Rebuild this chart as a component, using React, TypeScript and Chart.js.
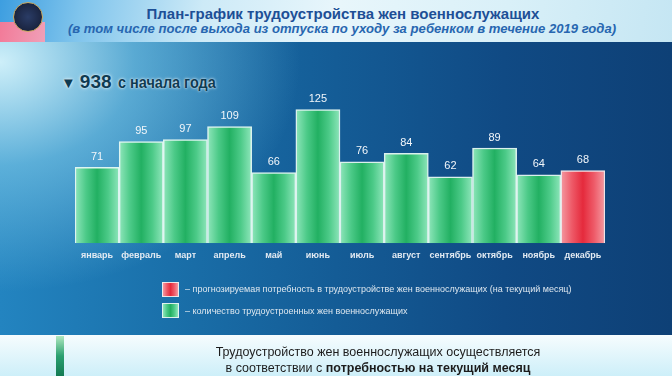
import { useEffect, useRef } from "react";
import { Chart, registerables } from "chart.js";

Chart.register(...registerables);

const months = ["январь", "февраль", "март", "апрель", "май", "июнь", "июль", "август", "сентябрь", "октябрь", "ноябрь", "декабрь"];
const employed = [71, 95, 97, 109, 66, 125, 76, 84, 62, 89, 64, null];
const forecast = [null, null, null, null, null, null, null, null, null, null, null, 68];
const totalLabel = "938";
const legendForecast = "– прогнозируемая потребность в трудоустройстве жен военнослужащих (на текущий месяц)";
const legendEmployed = "– количество трудоустроенных жен военнослужащих";

const greenStops: [number, string][] = [[0, "#8fe6bb"], [0.25, "#4cca88"], [0.5, "#22b062"], [0.75, "#4cca88"], [1, "#8fe6bb"]];
const redStops: [number, string][] = [[0, "#f49aa2"], [0.25, "#ee5a68"], [0.5, "#e52a3c"], [0.75, "#ee5a68"], [1, "#f49aa2"]];

function barGradient(ctx: any, stops: [number, string][]) {
  const chart = ctx.chart;
  const xs = chart.scales && chart.scales.x;
  if (!xs || ctx.dataIndex == null || !xs.width) return stops[2][1];
  const cx = xs.getPixelForValue(ctx.dataIndex);
  const w = xs.width / months.length;
  const g = chart.ctx.createLinearGradient(cx - w / 2, 0, cx + w / 2, 0);
  stops.forEach(([o, c]) => g.addColorStop(o, c));
  return g;
}

const valueLabels = {
  id: "valueLabels",
  afterDatasetsDraw(chart: any) {
    const ctx = chart.ctx;
    ctx.save();
    ctx.font = "11px 'Liberation Sans', Arial, sans-serif";
    ctx.fillStyle = "#f2f6fa";
    ctx.textAlign = "center";
    ctx.textBaseline = "middle";
    chart.data.datasets.forEach((ds: any, di: number) => {
      const meta = chart.getDatasetMeta(di);
      meta.data.forEach((el: any, i: number) => {
        const v = ds.data[i];
        if (v == null) return;
        ctx.fillText(String(v), el.x, el.y - 10.5);
      });
    });
    ctx.restore();
  },
};

function BarChart() {
  const ref = useRef<HTMLCanvasElement>(null);
  useEffect(() => {
    if (!ref.current) return;
    const chart = new Chart(ref.current, {
      type: "bar",
      data: {
        labels: months,
        datasets: [
          {
            label: "employed",
            data: employed,
            grouped: false,
            categoryPercentage: 1,
            barPercentage: 1,
            backgroundColor: (c: any) => barGradient(c, greenStops),
            borderColor: "rgba(230,250,242,0.95)",
            borderWidth: 1.5,
          } as any,
          {
            label: "forecast",
            data: forecast,
            grouped: false,
            categoryPercentage: 1,
            barPercentage: 1,
            backgroundColor: (c: any) => barGradient(c, redStops),
            borderColor: "rgba(252,235,236,0.95)",
            borderWidth: 1.5,
          } as any,
        ],
      },
      options: {
        responsive: false,
        animation: false,
        devicePixelRatio: 1,
        layout: { padding: { left: 75, right: 67, top: 93.5, bottom: 108 } },
        plugins: { legend: { display: false }, tooltip: { enabled: false } },
        scales: {
          y: { display: false, min: 0, max: 140 },
          x: {
            grid: { display: false, drawTicks: false },
            border: { display: false },
            ticks: {
              color: "#e2eaf2",
              padding: 7,
              maxRotation: 0,
              autoSkip: false,
              font: { family: "'Liberation Sans', Arial, sans-serif", size: 9, weight: "bold" },
            },
          },
        },
      },
      plugins: [valueLabels],
    });
    return () => chart.destroy();
  }, []);
  return <canvas ref={ref} width={672} height={376} style={{ position: "absolute", left: 0, top: 0, width: 672, height: 376 }} />;
}

const swatch = (stops: [number, string][]) => ({
  position: "absolute" as const,
  left: 162,
  width: 15,
  height: 13,
  border: "1.5px solid rgba(235,245,245,0.9)",
  background: `linear-gradient(to right, ${stops.map(([o, c]) => `${c} ${o * 100}%`).join(", ")})`,
});

export default function App() {
  return (
    <div
      style={{
        position: "fixed",
        left: 0,
        top: 0,
        width: 672,
        height: 376,
        overflow: "hidden",
        fontFamily: "'Liberation Sans', Arial, sans-serif",
        background: "#145c96",
      }}
    >
      {/* header */}
      <div
        style={{
          position: "absolute",
          left: 0,
          top: 0,
          width: 672,
          height: 42,
          background:
            "linear-gradient(100deg, #3d9ee0 0%, #7fc4ec 12%, #cdeaf7 30%, #e8f6fb 50%, #d9f0f8 75%, #c5e6f3 100%)",
        }}
      />
      <div style={{ position: "absolute", left: 0, top: 22, width: 45, height: 20, background: "linear-gradient(100deg, #f27a98, #f0a0b8)" }} />
      <div
        style={{
          position: "absolute",
          left: 13,
          top: 2,
          width: 28,
          height: 28,
          borderRadius: "50%",
          background: "radial-gradient(circle, #2a3c66 0%, #1a2440 70%)",
          border: "1.5px solid #c9a860",
        }}
      />
      {/* main panel */}
      <div
        style={{
          position: "absolute",
          left: 0,
          top: 42,
          width: 672,
          height: 293,
          background:
            "radial-gradient(ellipse 300px 230px at 0px 20px, rgba(215,245,252,0.95) 0%, rgba(130,205,235,0.6) 45%, rgba(40,140,200,0) 100%), linear-gradient(to right, #2384c0 0%, #1a70aa 25%, #145c96 50%, #104a84 75%, #0e4076 100%)",
        }}
      />
      {/* bottom strip */}
      <div style={{ position: "absolute", left: 0, top: 335, width: 672, height: 41, background: "linear-gradient(to bottom, #f6fcfe, #cdeff9)" }} />
      <div style={{ position: "absolute", left: 56, top: 336, width: 8, height: 40, background: "linear-gradient(to bottom, #b0e8c0, #2aa070 50%, #137a52)" }} />

      {/* titles */}
      <div style={{ position: "absolute", left: 7, top: 5, width: 672, textAlign: "center", fontSize: 15, lineHeight: "18px", fontWeight: "bold", color: "#1d4f96" }}>
        План-график трудоустройства жен военнослужащих
      </div>
      <div style={{ position: "absolute", left: 6, top: 21, width: 672, textAlign: "center", fontSize: 13.1, lineHeight: "16px", fontWeight: "bold", fontStyle: "italic", color: "#2766b0", whiteSpace: "nowrap" }}>
        (в том числе после выхода из отпуска по уходу за ребенком в течение 2019 года)
      </div>

      <div
        style={{
          position: "absolute",
          left: 61,
          top: 71,
          lineHeight: "22px",
          fontWeight: "bold",
          color: "#0e3b52",
          whiteSpace: "nowrap",
          textShadow: "0 0 2px rgba(255,255,255,0.9), 0 0 4px rgba(255,255,255,0.6)",
        }}
      >
        <span style={{ fontSize: 15 }}>▼</span>
        <span style={{ fontSize: 19, marginLeft: 4 }}>{totalLabel}</span>
        <span style={{ display: "inline-block", fontSize: 17, marginLeft: 6, transform: "scaleX(0.85)", transformOrigin: "left center" }}>с начала года</span>
      </div>

      <BarChart />

      {/* legend */}
      <div style={{ ...swatch(redStops), top: 282 }} />
      <div style={{ ...swatch(greenStops), top: 303 }} />
      <div style={{ position: "absolute", left: 185, top: 283, fontSize: 9, lineHeight: "12px", color: "#dde7ef", whiteSpace: "nowrap" }}>{legendForecast}</div>
      <div style={{ position: "absolute", left: 185, top: 305, fontSize: 9, lineHeight: "12px", color: "#dde7ef", whiteSpace: "nowrap" }}>{legendEmployed}</div>

      {/* bottom text */}
      <div style={{ position: "absolute", left: 42, top: 344, width: 672, textAlign: "center", fontSize: 12.5, lineHeight: "16px", color: "#1c1c1c", whiteSpace: "nowrap" }}>
        Трудоустройство жен военнослужащих осуществляется
        <br />
        в соответствии с <b>потребностью на текущий месяц</b>
      </div>
    </div>
  );
}
